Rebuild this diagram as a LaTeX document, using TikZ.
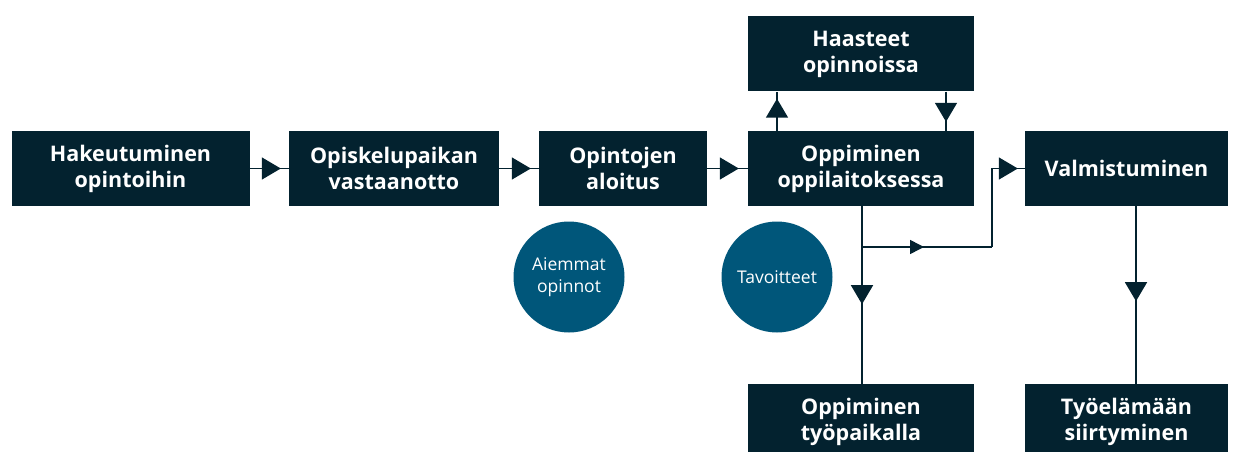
\documentclass[tikz,border=0pt]{standalone}
\usepackage{fontspec}
\setsansfont{Open Sans}
\usepackage{tikz}
\usetikzlibrary{arrows.meta,decorations.markings}

\definecolor{tummasini}{RGB}{3,34,47}
\definecolor{pallosini}{RGB}{0,86,122}

\tikzset{
	vaihe/.style={fill=tummasini, text=white, minimum height=75pt, inner sep=0pt,
		align=center, font=\sffamily\bfseries\fontsize{21.5}{26}\selectfont},
	pallo/.style={circle, fill=pallosini, text=white, minimum size=111pt, inner sep=0pt,
		align=center, font=\sffamily\fontsize{17.5}{22}\selectfont},
	viiva/.style={draw=tummasini, line width=1.5pt},
	kolmio/.style={postaction={decorate}, decoration={markings,
		mark=at position #1 with {\arrow{Triangle[length=19pt,width=22pt]}}}},
	pieni/.style={postaction={decorate}, decoration={markings,
		mark=at position #1 with {\arrow{Triangle[length=14pt,width=14pt]}}}}
}

\begin{document}
\begin{tikzpicture}[x=1pt,y=-1pt]
				\clip (0,0) rectangle (1240,452);
				\node[vaihe, minimum width=238pt] (hake) at (130.5,168.5) {Hakeutuminen\\opintoihin};
				\node[vaihe, minimum width=210pt] (paikka) at (394,168.5) {Opiskelupaikan\\vastaanotto};
				\node[vaihe, minimum width=168pt] (aloitus) at (623,168.5) {Opintojen\\aloitus};
				\node[vaihe, minimum width=226pt] (oppi) at (861,168.5) {Oppiminen\\oppilaitoksessa};
				\node[vaihe, minimum width=226pt] (haaste) at (861,54) {Haasteet\\opinnoissa};
				\node[vaihe, minimum width=203pt] (valm) at (1126.5,168.5) {Valmistuminen};
				\node[vaihe, minimum width=226pt] (tyopaikka) at (861,421.5) {Oppiminen\\työpaikalla};
				\node[vaihe, minimum width=203pt] (siirto) at (1126.5,421.5) {Työelämään\\siirtyminen};

				\node[pallo] (aiemmat) at (569,277) {Aiemmat\\opinnot};
				\node[pallo] (tavoite) at (777,277) {Tavoitteet};

				\coordinate (haara) at (862,247);
				\coordinate (kulma) at (992,247);

				% vaiheet vasemmalta oikealle
				\draw[viiva, kolmio=-8pt] (hake) -- (paikka);
				\draw[viiva, kolmio=-8pt] (paikka) -- (aloitus);
				\draw[viiva, kolmio=-9pt] (aloitus) -- (oppi);
				\draw[viiva, kolmio=-7pt] ([xshift=-84pt]oppi.north) -- ([xshift=-84pt]haaste.south);
				\draw[viiva, kolmio=-9pt] ([xshift=85pt]haaste.south) -- ([xshift=85pt]oppi.north);

				% haarat alas ja oikealle
				\draw[viiva, kolmio=98pt] (oppi.south -| haara) -- (tyopaikka.north -| haara);
				\draw[viiva, pieni=62pt] (haara) -- (kulma);
				\draw[viiva, kolmio=-7pt] (kulma) -- (kulma |- valm.west) -- (valm.west);
				\draw[viiva, kolmio=95pt] ([xshift=9.5pt]valm.south) -- ([xshift=9.5pt]siirto.north);
			\end{tikzpicture}
\end{document}
